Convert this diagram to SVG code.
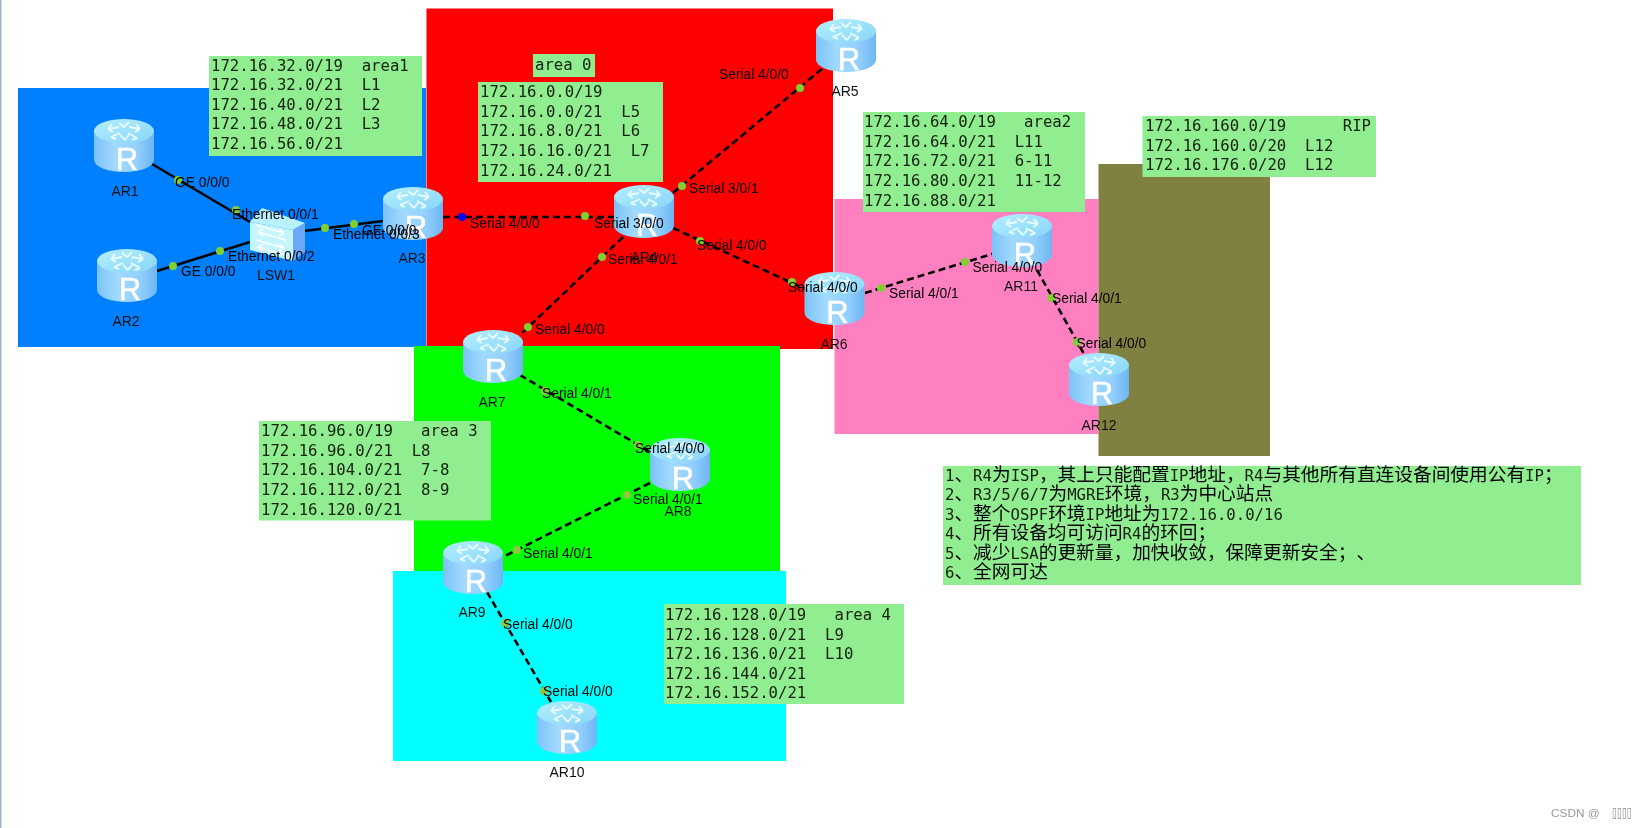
<svg xmlns="http://www.w3.org/2000/svg" width="1646" height="828" viewBox="0 0 1646 828">
<style>
.m{font-family:"DejaVu Sans Mono","Liberation Mono",monospace;font-size:15.65px;fill:#14200c;white-space:pre;text-spacing-trim:space-all}
.c{font-family:"Noto Sans CJK SC",sans-serif;font-size:18.7px;fill:#000}
.l{font-family:"Liberation Sans",Arial,sans-serif;font-size:13.8px;fill:#000;white-space:pre}
.n{font-family:"Liberation Sans",Arial,sans-serif;font-size:14px;fill:#111;text-anchor:middle}
.b{fill:#90ee90}
.s{stroke:#000;stroke-width:2.6;fill:none}
.d{stroke:#000;stroke-width:2.6;fill:none;stroke-dasharray:7 4}
.p{fill:#80d030}
.q{fill:#0000ff}
.f{fill:#90c83c}
.a{fill:none;stroke:#e8fbff;stroke-width:1.9;stroke-linejoin:round}
.r{font-family:"Liberation Sans",Arial,sans-serif;font-size:31px;fill:#fff;stroke:#fff;stroke-width:.5;text-anchor:middle}
</style>
<defs>
<filter id="soft" x="0" y="0" width="100%" height="100%" filterUnits="objectBoundingBox"><feGaussianBlur stdDeviation="0.4"/></filter>
<linearGradient id="side" x1="0" x2="1" y1="0" y2="0"><stop offset="0" stop-color="#7cc2f6"/><stop offset=".35" stop-color="#a2daff"/><stop offset=".7" stop-color="#94d0fd"/><stop offset="1" stop-color="#6db6f2"/></linearGradient>
<linearGradient id="top" x1="0" x2="1" y1="0" y2="1"><stop offset="0" stop-color="#b4f0ff"/><stop offset="1" stop-color="#88d4f8"/></linearGradient>
<symbol id="router" width="60" height="53" viewBox="0 0 60 53" overflow="visible">
<path d="M0 12V41A30 12 0 0 0 60 41V12Z" fill="url(#side)"/>
<ellipse cx="30" cy="12" rx="30" ry="12" fill="url(#top)"/>
<path class="a" d="M14 10L25 8M14 10L18 5M14 10L19 13M46 10L35 8M46 10L42 5M46 10L41 13M17 18L26 14M17 18L22 20M43 19L34 14M43 19L38 21M25 4L30 8L35 3M31 21L26 16M31 21L35 16"/>
<text class="r" x="33" y="51">R</text>
</symbol>
</defs>
<g filter="url(#soft)">
<rect width="1646" height="828" fill="#fff"/>
<rect width="1.5" height="828" fill="#9fb3c8"/>
<g id="areas">
<rect x="18" y="88" width="408" height="259" fill="#0080ff"/>
<rect x="426.5" y="8.5" width="406.5" height="340.5" fill="#ff0000"/>
<rect x="414" y="346" width="366" height="225" fill="#00ff00"/>
<rect x="393" y="571" width="393" height="190" fill="#00ffff"/>
<rect x="834.5" y="199" width="264" height="235" fill="#ff80c0"/>
<rect x="1098.5" y="164" width="171.5" height="292" fill="#808040"/>
</g>
<g id="notes">
<rect class="b" x="209" y="56" width="213" height="100"/>
<text class="m" x="211" y="70.5">172.16.32.0/19  area1</text>
<text class="m" x="211" y="90">172.16.32.0/21  L1</text>
<text class="m" x="211" y="109.5">172.16.40.0/21  L2</text>
<text class="m" x="211" y="129">172.16.48.0/21  L3</text>
<text class="m" x="211" y="149">172.16.56.0/21</text>
<rect class="b" x="533" y="54" width="62" height="23"/>
<text class="m" x="535" y="69.5">area 0</text>
<rect class="b" x="478" y="82" width="185" height="100"/>
<text class="m" x="480" y="97">172.16.0.0/19</text>
<text class="m" x="480" y="117">172.16.0.0/21  L5</text>
<text class="m" x="480" y="136">172.16.8.0/21  L6</text>
<text class="m" x="480" y="155.5">172.16.16.0/21  L7</text>
<text class="m" x="480" y="175.5">172.16.24.0/21</text>
<rect class="b" x="863" y="112" width="222" height="100"/>
<text class="m" x="864" y="127">172.16.64.0/19   area2</text>
<text class="m" x="864" y="147">172.16.64.0/21  L11</text>
<text class="m" x="864" y="166">172.16.72.0/21  6-11</text>
<text class="m" x="864" y="186">172.16.80.0/21  11-12</text>
<text class="m" x="864" y="205.5">172.16.88.0/21</text>
<rect class="b" x="1142.5" y="116" width="233.5" height="61"/>
<text class="m" x="1145" y="130.5">172.16.160.0/19      RIP</text>
<text class="m" x="1145" y="150.5">172.16.160.0/20  L12</text>
<text class="m" x="1145" y="169.5">172.16.176.0/20  L12</text>
<rect class="b" x="259" y="421" width="232" height="99.5"/>
<text class="m" x="261" y="436">172.16.96.0/19   area 3</text>
<text class="m" x="261" y="456">172.16.96.0/21  L8</text>
<text class="m" x="261" y="475">172.16.104.0/21  7-8</text>
<text class="m" x="261" y="494.5">172.16.112.0/21  8-9</text>
<text class="m" x="261" y="514.5">172.16.120.0/21</text>
<rect class="b" x="664" y="604" width="240" height="100"/>
<text class="m" x="665" y="619.5">172.16.128.0/19   area 4</text>
<text class="m" x="665" y="639.5">172.16.128.0/21  L9</text>
<text class="m" x="665" y="658.5">172.16.136.0/21  L10</text>
<text class="m" x="665" y="678.5">172.16.144.0/21</text>
<text class="m" x="665" y="698">172.16.152.0/21</text>
<rect class="b" x="943" y="466" width="638" height="119"/>
<text class="m" x="945" y="480.5">1<tspan class="c">、</tspan>R4<tspan class="c">为</tspan>ISP<tspan class="c">，其上只能配置</tspan>IP<tspan class="c">地址，</tspan>R4<tspan class="c">与其他所有直连设备间使用公有</tspan>IP<tspan class="c">；</tspan></text>
<text class="m" x="945" y="500">2<tspan class="c">、</tspan>R3/5/6/7<tspan class="c">为</tspan>MGRE<tspan class="c">环境，</tspan>R3<tspan class="c">为中心站点</tspan></text>
<text class="m" x="945" y="519.5">3<tspan class="c">、整个</tspan>OSPF<tspan class="c">环境</tspan>IP<tspan class="c">地址为</tspan>172.16.0.0/16</text>
<text class="m" x="945" y="539">4<tspan class="c">、所有设备均可访问</tspan>R4<tspan class="c">的环回；</tspan></text>
<text class="m" x="945" y="558.5">5<tspan class="c">、减少</tspan>LSA<tspan class="c">的更新量，加快收敛，保障更新安全；、</tspan></text>
<text class="m" x="945" y="578">6<tspan class="c">、全网可达</tspan></text>
</g>
<g id="connectors">
<path class="s" d="M152 164L250 222"/>
<path class="s" d="M157 271L250 242"/>
<path class="s" d="M304 231L383 221"/>
<path class="d" d="M443 217H614"/>
<path class="d" d="M673 193L823 68"/>
<path class="d" d="M673 228L805 289"/>
<path class="d" d="M623 237L520 335"/>
<path class="d" d="M520 375L650 452"/>
<path class="d" d="M650 483L503 557"/>
<path class="d" d="M487 592L551 702"/>
<path class="d" d="M865 293L992 254"/>
<path class="d" d="M1037 270L1084 354"/>
</g>
<g id="AR1"><use href="#router" x="94" y="119"/><text class="n" x="125" y="196">AR1</text></g>
<g id="AR2"><use href="#router" x="97" y="249"/><text class="n" x="126" y="326">AR2</text></g>
<g id="LSW1">
<path d="M250 222L262 208L305 223L293 230Z" fill="#b8f2ff"/>
<path d="M250 222L293 230V261L250 250Z" fill="#c4f6ff"/>
<path d="M293 230L305 223V252L293 261Z" fill="#6ca8f8"/>
<path d="M256 225L284 233M284 233L279 229M284 233L279 236M286 240L258 232M258 232L263 229M258 232L263 236M256 240L284 248M284 248L279 244M284 248L279 251M286 255L258 247M258 247L263 244M258 247L263 251" fill="none" stroke="#fff" stroke-width="1.6"/>
<text class="n" x="276" y="280">LSW1</text></g>
<g id="AR3"><use href="#router" x="383" y="187"/><text class="n" x="412" y="263">AR3</text></g>
<g id="AR4"><use href="#router" x="614" y="185"/><text class="n" x="644" y="262">AR4</text></g>
<g id="AR5"><use href="#router" x="816" y="19"/><text class="n" x="845" y="96">AR5</text></g>
<g id="AR6"><use href="#router" x="804.5" y="272"/><text class="n" x="834" y="349">AR6</text></g>
<g id="AR7"><use href="#router" x="463" y="330"/><text class="n" x="492" y="407">AR7</text></g>
<g id="AR8"><use href="#router" x="650" y="438"/><text class="n" x="678" y="516">AR8</text></g>
<g id="AR9"><use href="#router" x="443" y="541"/><text class="n" x="472" y="617">AR9</text></g>
<g id="AR10"><use href="#router" x="537" y="701"/><text class="n" x="567" y="777">AR10</text></g>
<g id="AR11"><use href="#router" x="992" y="214"/><text class="n" x="1021" y="291">AR11</text></g>
<g id="AR12"><use href="#router" x="1069" y="353"/><text class="n" x="1099" y="430">AR12</text></g>
<g id="ports">
<circle class="p" cx="178" cy="180" r="4"/><circle class="p" cx="236" cy="210" r="4"/>
<circle class="p" cx="173" cy="266" r="4"/><circle class="p" cx="220" cy="251" r="4"/>
<circle class="p" cx="325" cy="228" r="4"/><circle class="p" cx="354" cy="224" r="4"/>
<circle class="q" cx="462" cy="217" r="4"/><circle class="p" cx="585" cy="216" r="4"/>
<circle class="p" cx="682" cy="186" r="4"/><circle class="p" cx="800" cy="88" r="4"/>
<circle class="p" cx="700" cy="241" r="4"/><circle class="p" cx="792" cy="282" r="4"/>
<circle class="p" cx="602" cy="257" r="4"/><circle class="p" cx="528" cy="327" r="4"/>
<circle class="f" cx="545" cy="391" r="4"/><circle class="f" cx="638" cy="445" r="4"/>
<circle class="f" cx="627" cy="495" r="4"/><circle class="f" cx="517" cy="550" r="4"/>
<circle class="f" cx="505" cy="623" r="4"/><circle class="f" cx="544" cy="691" r="4"/>
<circle class="p" cx="881" cy="288" r="4"/><circle class="p" cx="965" cy="262" r="4"/>
<circle class="p" cx="1051.5" cy="298" r="4"/><circle class="p" cx="1077" cy="342" r="4"/>
<text class="l" x="175" y="187">GE 0/0/0</text>
<text class="l" x="232" y="219">Ethernet 0/0/1</text>
<text class="l" x="228" y="261">Ethernet 0/0/2</text>
<text class="l" x="181" y="276">GE 0/0/0</text>
<text class="l" x="333" y="239">Ethernet 0/0/3</text>
<text class="l" x="362" y="235">GE 0/0/0</text>
<text class="l" x="470" y="228">Serial 4/0/0</text>
<text class="l" x="594" y="228">Serial 3/0/0</text>
<text class="l" x="689" y="193">Serial 3/0/1</text>
<text class="l" x="719" y="79">Serial 4/0/0</text>
<text class="l" x="697" y="250">Serial 4/0/0</text>
<text class="l" x="788" y="292">Serial 4/0/0</text>
<text class="l" x="608" y="264">Serial 4/0/1</text>
<text class="l" x="535" y="334">Serial 4/0/0</text>
<text class="l" x="542" y="398">Serial 4/0/1</text>
<text class="l" x="635" y="453">Serial 4/0/0</text>
<text class="l" x="633" y="504">Serial 4/0/1</text>
<text class="l" x="523" y="558">Serial 4/0/1</text>
<text class="l" x="503" y="629">Serial 4/0/0</text>
<text class="l" x="543" y="696">Serial 4/0/0</text>
<text class="l" x="889" y="298">Serial 4/0/1</text>
<text class="l" x="972.5" y="272">Serial 4/0/0</text>
<text class="l" x="1052" y="303">Serial 4/0/1</text>
<text class="l" x="1076.5" y="348">Serial 4/0/0</text>
</g>
<text x="1551" y="817" style="font-family:'Liberation Sans',Arial,sans-serif;font-size:11.8px;fill:#999">CSDN @</text>
<text transform="translate(1612 817) scale(1 1.5)" style="font-family:'DejaVu Sans',sans-serif;font-size:9px;fill:#888">▯▯▯▯</text>
</g>
</svg>
